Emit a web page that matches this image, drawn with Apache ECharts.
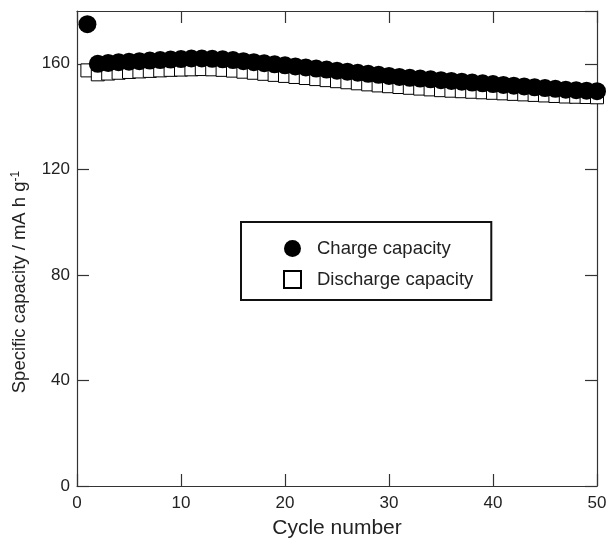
<!DOCTYPE html>
<html><head><meta charset="utf-8">
<script src="https://cdn.jsdelivr.net/npm/echarts@6/dist/echarts.min.js"></script>
<style>html,body{margin:0;padding:0;background:#fff}#c{width:609px;height:538px}</style>
</head><body><div id="c"></div>
<script>
const cycles = Array.from({length: 50}, (_, i) => i + 1);
const charge = [175, 160, 160.3, 160.6, 160.8, 161, 161.2, 161.4, 161.6, 161.8,
  162, 162, 161.9, 161.7, 161.4, 161, 160.6, 160.2, 159.8, 159.4,
  159, 158.6, 158.2, 157.8, 157.4, 157, 156.6, 156.2, 155.8, 155.4,
  155, 154.7, 154.4, 154.1, 153.8, 153.5, 153.2, 152.9, 152.6, 152.3,
  152, 151.7, 151.4, 151.1, 150.8, 150.5, 150.2, 150, 149.8, 149.6];
const discharge = [157.5, 156, 156.3, 156.6, 156.9, 157.1, 157.3, 157.5, 157.7, 157.8,
  157.9, 158, 157.9, 157.7, 157.4, 157, 156.6, 156.2, 155.8, 155.4,
  155, 154.6, 154.2, 153.8, 153.4, 153, 152.6, 152.2, 151.8, 151.5,
  151.2, 150.9, 150.6, 150.3, 150, 149.8, 149.6, 149.4, 149.2, 149,
  148.8, 148.6, 148.4, 148.2, 148, 147.8, 147.6, 147.5, 147.4, 147.3];
const xTicks = [0, 10, 20, 30, 40, 50];
const yTicks = [0, 40, 80, 120, 160];

const chart = echarts.init(document.getElementById('c'));
const font = 'Liberation Sans, Arial, sans-serif';
const lineC = '#333';
const baseAxis = {
  axisLine: {show: true, onZero: false, lineStyle: {color: lineC, width: 1.2}},
  axisTick: {show: true, inside: true, length: 12, lineStyle: {color: lineC, width: 1.2}},
  splitLine: {show: false}
};
chart.setOption({
  animation: false,
  textStyle: {fontFamily: font},
  grid: {left: 77, right: 12, top: 11, bottom: 52, containLabel: false, outerBoundsMode: 'none'},
  legend: {
    orient: 'vertical', left: 241, top: 222,
    padding: [17, 18, 11, 42],
    itemWidth: 17, itemHeight: 17, itemGap: 12,
    borderColor: '#111', borderWidth: 2,
    textStyle: {fontSize: 18.5, color: '#222', fontFamily: font, padding: [0, 0, 0, 11]},
    data: [
      {name: 'Charge capacity', icon: 'circle'},
      {name: 'Discharge capacity', icon: 'rect'}
    ]
  },
  xAxis: [
    Object.assign({}, baseAxis, {
      type: 'value', min: 0, max: 50, interval: 10, position: 'bottom',
      name: 'Cycle number', nameLocation: 'middle', nameGap: 32,
      nameTextStyle: {fontSize: 21, color: '#222', fontFamily: font},
      axisLabel: {fontSize: 17, color: '#222', margin: 9, fontFamily: font}
    }),
    Object.assign({}, baseAxis, {
      type: 'value', min: 0, max: 50, interval: 10, position: 'top',
      axisLabel: {show: false}
    })
  ],
  yAxis: [
    Object.assign({}, baseAxis, {
      type: 'value', min: 0, max: 180, interval: 40, position: 'left',
      name: 'Specific capacity / mA h g{sup|-1}', nameLocation: 'middle', nameGap: 47,
      nameTextStyle: {fontSize: 18.5, color: '#222', fontFamily: font, padding: [0, 67, 0, 0],
        rich: {sup: {fontSize: 12, color: '#222', fontFamily: font, verticalAlign: 'top', padding: [0, 0, 8, 0]}}},
      axisLabel: {fontSize: 17, color: '#222', margin: 7, showMaxLabel: false, fontFamily: font}
    }),
    Object.assign({}, baseAxis, {
      type: 'value', min: 0, max: 180, interval: 40, position: 'right',
      axisLabel: {show: false}
    })
  ],
  series: [
    {
      name: 'Discharge capacity', type: 'scatter', symbol: 'rect', symbolSize: 13,
      data: cycles.map((c, i) => [c, discharge[i]]),
      itemStyle: {color: '#fff', borderColor: '#000', borderWidth: 1, opacity: 1},
      z: 2
    },
    {
      name: 'Charge capacity', type: 'scatter', symbol: 'circle', symbolSize: 18,
      data: cycles.map((c, i) => [c, charge[i]]),
      itemStyle: {color: '#000', opacity: 1},
      z: 3
    }
  ]
});
</script></body></html>
